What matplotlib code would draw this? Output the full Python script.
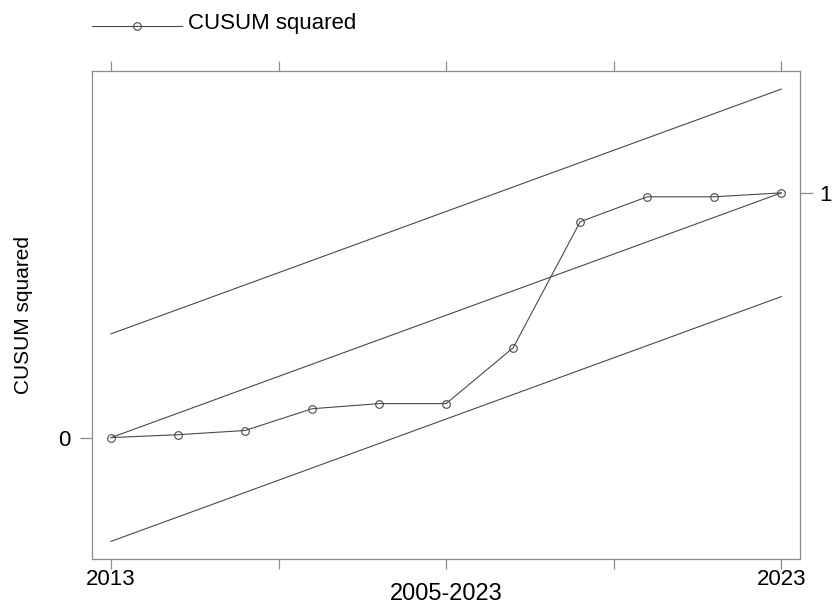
import numpy as np
import matplotlib
matplotlib.use("agg")
import matplotlib.pyplot as plt

plt.rcParams["font.family"] = ["Liberation Sans", "DejaVu Sans"]

years = [2013, 2014, 2015, 2016, 2017, 2018, 2019, 2020, 2021, 2022, 2023]
cusum_sq = [0.0, 0.012, 0.029, 0.118, 0.139, 0.139, 0.367, 0.882, 0.984, 0.984, 1.0]
expected = [0.0, 1.0]
band = 0.424
x_ticks = [2013, 2015.5, 2018, 2020.5, 2023]
x_labels = ["2013", "", "", "", "2023"]

fig = plt.figure(figsize=(8.32, 6.06), dpi=100)
ax = fig.add_axes([92 / 832, 1 - 559 / 606, 708 / 832, 488 / 606])

ends = [years[0], years[-1]]
lc = "#4a4a4a"
gc = "#8c8c8c"
ax.plot(ends, [e + band for e in expected], color=lc, lw=0.8)
ax.plot(ends, expected, color=lc, lw=0.8)
ax.plot(ends, [e - band for e in expected], color=lc, lw=0.8)
line, = ax.plot(years, cusum_sq, color=lc, lw=0.8, marker="o", ms=5.5,
                mfc="none", mec=lc, mew=0.8, label="CUSUM squared")

ax.set_xlim(2012.716, 2023.28)
ax.set_ylim(-0.496, 1.498)

for s in ax.spines.values():
    s.set_color(gc)
    s.set_linewidth(0.9)

ax.set_xticks(x_ticks)
ax.set_xticklabels(x_labels)
ax.tick_params(axis="x", top=True, direction="out", length=7, width=0.9,
               color=gc, labelsize=16, pad=0)
ax.set_yticks([0])
ax.set_yticklabels(["0"])
ax.tick_params(axis="y", direction="out", length=9, width=0.9, color=gc,
               labelsize=16, pad=6.5)

ax2 = ax.twinx()
ax2.set_ylim(ax.get_ylim())
ax2.set_yticks([1])
ax2.set_yticklabels(["1"])
ax2.tick_params(axis="y", direction="out", length=9, width=0.9, color=gc,
                labelsize=16, pad=5)
for s in ax2.spines.values():
    s.set_visible(False)

ax.set_xlabel("2005-2023", fontsize=17, labelpad=-5)
ax.set_ylabel("CUSUM squared", fontsize=15, labelpad=18)

leg = fig.legend(handles=[line], loc="center left",
                 bbox_to_anchor=(92 / 832, 1 - 24 / 606), borderpad=0,
                 borderaxespad=0, frameon=False, fontsize=16,
                 handlelength=4.05, handletextpad=0.27)
hl = leg.get_lines()[0]
hl.set_ydata(np.asarray(hl.get_ydata()) - 3)

fig.savefig("out.png", dpi=100)
